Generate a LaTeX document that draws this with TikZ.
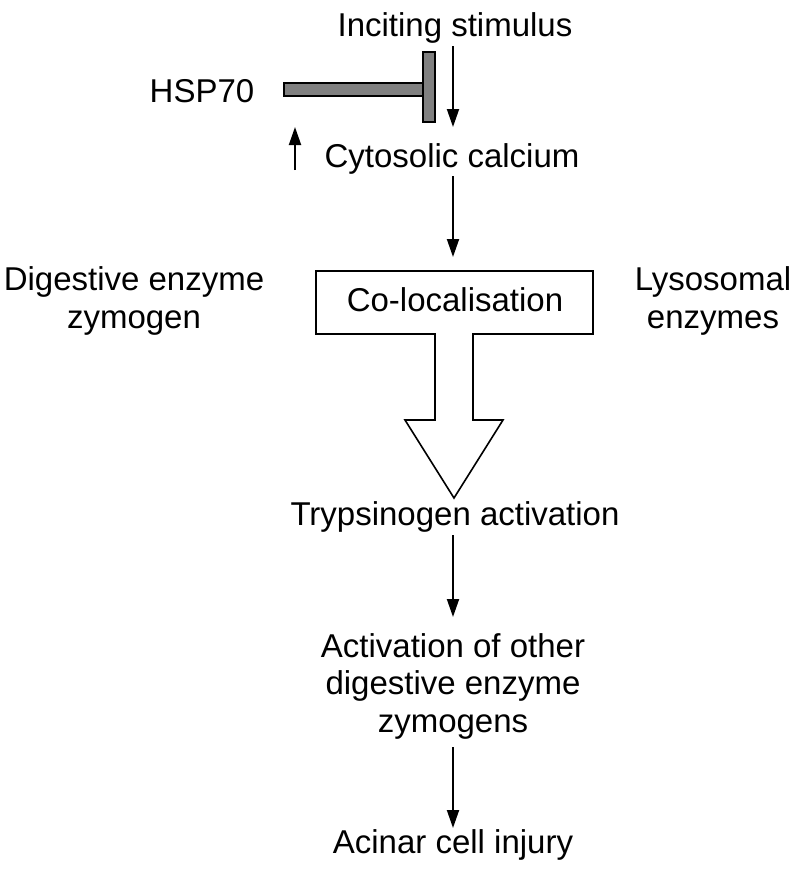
\documentclass[tikz,border=0pt]{standalone}
\usepackage{fontspec}
\setmainfont{Liberation Sans}
\usetikzlibrary{arrows.meta}
\begin{document}
\begin{tikzpicture}[x=1pt,y=-1pt,
  lbl/.style={inner sep=0pt,anchor=base,align=center,font=\fontsize{33}{37.5}\selectfont},
  arr/.style={line width=1.9pt,-{Triangle[length=18pt,width=12pt]}},
  inhib/.style={draw=black,fill=black!50,line width=1.5pt},
  outline/.style={draw=black,line width=1.6pt,line join=miter}]
\useasboundingbox (0,0) rectangle (800,871);
% text nodes (base = baseline of last line)
\node[lbl] (inc) at (455,36) {Inciting stimulus};
\node[lbl] (cyt) at (452,167) {Cytosolic calcium};
\node[lbl] (hsp) at (202,102) {HSP70};
\node[lbl] (col) at (455,311) {Co-localisation};
\node[lbl] (dig) at (134,328) {Digestive enzyme\\zymogen};
\node[lbl] (lys) at (713,328) {Lysosomal\\enzymes};
\node[lbl] (try) at (455,525) {Trypsinogen activation};
\node[lbl] (act) at (453,732) {Activation of other\\digestive enzyme\\zymogens};
\node[lbl] (aci) at (453,853) {Acinar cell injury};
% box with hollow arrow
\draw[outline] (316,271) -- (593,271) -- (593,334) -- (473,334) -- (473,420) -- (503,420)
  -- (454,498) -- (405,420) -- (435,420) -- (435,334) -- (316,334) -- cycle;
% inhibition symbol
\draw[inhib] (284,83) rectangle (423,96);
\draw[inhib] (423,52) rectangle (435,122);
% arrows
\coordinate (a1s) at (453,46);  \coordinate (a1e) at (453,127);
\coordinate (a2s) at (453,176); \coordinate (a2e) at (453,257);
\coordinate (a3s) at (453,535); \coordinate (a3e) at (453,617);
\coordinate (a4s) at (453,747); \coordinate (a4e) at (453,828);
\coordinate (ups) at (295,170); \coordinate (upe) at (295,127);
\draw[arr] (a1s) -- (a1e);
\draw[arr] (a2s) -- (a2e);
\draw[arr] (a3s) -- (a3e);
\draw[arr] (a4s) -- (a4e);
\draw[arr] (ups) -- (upe);
\end{tikzpicture}
\end{document}
